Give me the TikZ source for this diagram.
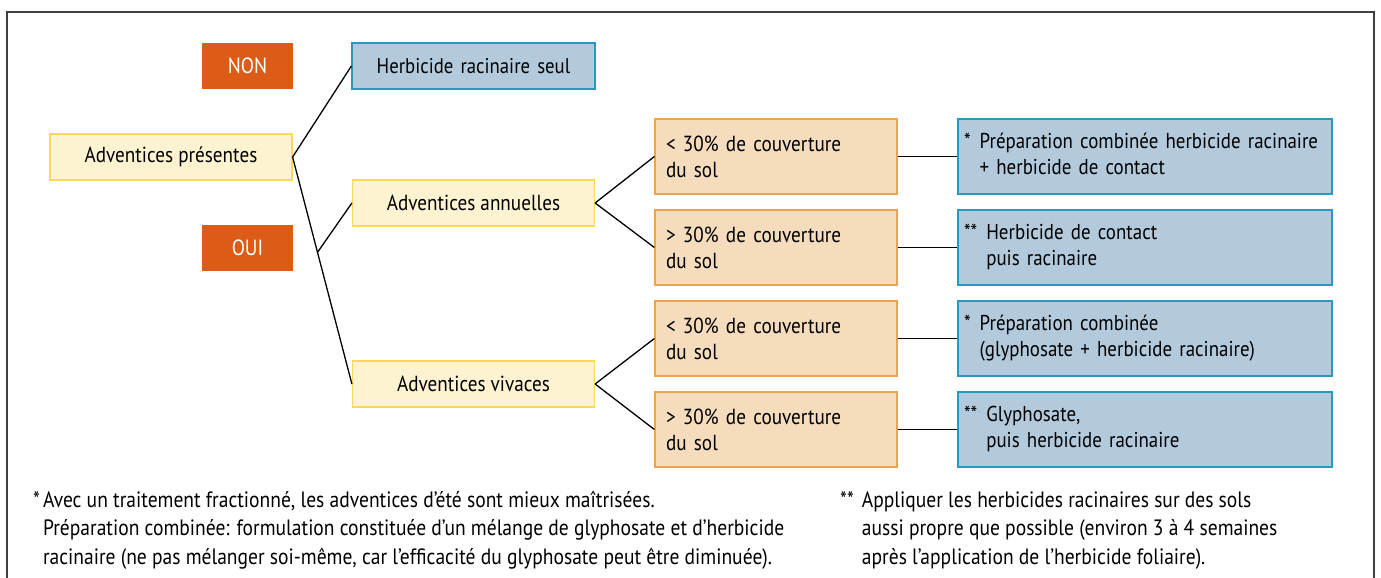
\documentclass[tikz,border=0pt]{standalone}
\usepackage{fontspec}
\setmainfont{PT Sans}[FakeStretch=0.88]
\usetikzlibrary{shapes,arrows,positioning,calc,fit}
\definecolor{answerfill}{HTML}{DC5C17}
\definecolor{weedfill}{HTML}{FEF3D1}
\definecolor{weedline}{HTML}{FDD75A}
\definecolor{coverfill}{HTML}{F5DCBC}
\definecolor{coverline}{HTML}{EDA24E}
\definecolor{treatfill}{HTML}{B3CADD}
\definecolor{treatline}{HTML}{2A97C0}
\tikzstyle{answer} = [rectangle, fill=answerfill, text=white, minimum width=91pt, minimum height=46pt, inner sep=0pt, font=\fontsize{22}{26}\selectfont]
\tikzstyle{weed} = [rectangle, draw=weedline, fill=weedfill, line width=1.2pt, minimum width=242pt, minimum height=46pt, inner sep=0pt, font=\fontsize{21.8}{26}\selectfont]
\tikzstyle{cover} = [rectangle, draw=coverline, fill=coverfill, line width=1.2pt, minimum width=242pt, minimum height=75pt, inner sep=0pt, text width=220pt, align=left, font=\fontsize{21.8}{26}\selectfont]
\tikzstyle{treat} = [rectangle, draw=treatline, fill=treatfill, line width=1.2pt, minimum width=374pt, minimum height=75pt, inner sep=0pt, text width=362pt, align=left, font=\fontsize{21.5}{26}\selectfont]
\tikzstyle{note} = [anchor=north west, inner sep=0pt, align=left, font=\fontsize{22.2}{28.5}\selectfont]
\tikzstyle{line} = [draw, line width=1.3pt]
\newcommand{\marked}[3]{\begin{tabular}{@{}l@{\hspace{9pt}}l@{}}#1 & #2\\ & #3\end{tabular}}

\begin{document}
\begin{tikzpicture}[x=1pt, y=-1pt]
		\useasboundingbox (0,0) rectangle (1381,578);
		\draw[line width=1.5pt, black!75] (7,578) -- (7,12) -- (1374,12) -- (1374,578);

		% Column 1
		\node[weed](pres) at (171,157) {Adventices présentes};
		\node[answer](non) at (247.5,66) {NON};
		\node[answer, below of = non, node distance = 182pt](oui) {OUI};

		% Column 2
		\node[treat, text width=231pt, minimum width=243pt, minimum height=46pt, align=center, font=\fontsize{21.3}{26}\selectfont](herb) at (473.5,66) {Herbicide racinaire seul};
		\node[weed, below of = herb, node distance = 137pt](ann) {Adventices annuelles};
		\node[weed, below of = ann, node distance = 181pt](viv) {Adventices vivaces};

		% Column 3
		\node[cover](c1) at (776,156.5) {< 30\% de couverture\\du sol};
		\node[cover, below of = c1, node distance = 91pt](c2) {> 30\% de couverture\\du sol};
		\node[cover, below of = c2, node distance = 91pt](c3) {< 30\% de couverture\\du sol};
		\node[cover, below of = c3, node distance = 91pt](c4) {> 30\% de couverture\\du sol};

		% Column 4
		\node[treat, right of = c1, node distance = 369pt](t1) {\marked{*}{Préparation combinée herbicide racinaire}{+ herbicide de contact}};
		\node[treat, right of = c2, node distance = 369pt](t2) {\marked{**}{Herbicide de contact}{puis racinaire}};
		\node[treat, right of = c3, node distance = 369pt](t3) {\marked{*}{Préparation combinée}{(glyphosate + herbicide racinaire)}};
		\node[treat, right of = c4, node distance = 369pt](t4) {\marked{**}{Glyphosate,}{puis herbicide racinaire}};

		% branch point on the OUI line
		\coordinate (fork) at ($(pres.east)!0.42!(viv.west)$);

		% Paths
		\path [line] (pres.east) -- (herb.west);
		\path [line] (pres.east) -- (viv.west);
		\path [line] (fork) -- (ann.west);
		\path [line] (ann.east) -- (c1.west);
		\path [line] (ann.east) -- (c2.west);
		\path [line] (viv.east) -- (c3.west);
		\path [line] (viv.east) -- (c4.west);
		\path [line] (c1) -- (t1);
		\path [line] (c2) -- (t2);
		\path [line] (c3) -- (t3);
		\path [line] (c4) -- (t4);

		% Footnotes
		\node[note](n1) at (33,487) {\begin{tabular}{@{}l@{\hspace{3pt}}l@{}}* & Avec un traitement fractionné, les adventices d’été sont mieux maîtrisées.\\ & Préparation combinée: formulation constituée d’un mélange de glyphosate et d’herbicide\\ & racinaire (ne pas mélanger soi-même, car l’efficacité du glyphosate peut être diminuée).\end{tabular}};
		\node[note](n2) at (840,487) {\begin{tabular}{@{}l@{\hspace{8pt}}l@{}}** & Appliquer les herbicides racinaires sur des sols\\ & aussi propre que possible (environ 3 à 4 semaines\\ & après l’application de l’herbicide foliaire).\end{tabular}};
	\end{tikzpicture}
\end{document}
